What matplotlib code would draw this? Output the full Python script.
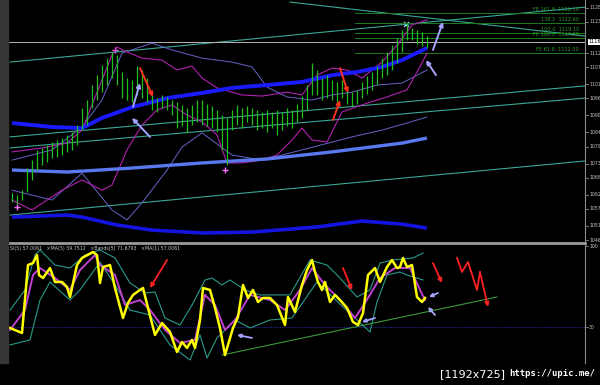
import matplotlib
matplotlib.use("Agg")
import matplotlib.pyplot as plt
import matplotlib.transforms as mtrans

# ---- price bars (one per bar index) ----
bar_high = [1062.6, 1061.9, 1063.7, 1071.4, 1074.2, 1077.8, 1078.5, 1079.5, 1080.6, 1081.3,
            1082.0, 1083.1, 1084.1, 1086.6, 1092.6, 1095.4, 1100.7, 1104.2, 1107.8, 1110.2,
            1112.4, 1111.3, 1105.3, 1103.2, 1102.5, 1107.4, 1106.0, 1103.2, 1097.2, 1096.1,
            1097.2, 1096.5, 1095.4, 1094.7, 1093.7, 1092.6, 1093.7, 1095.4, 1095.4, 1094.0,
            1093.3, 1091.9, 1090.1, 1089.1, 1091.9, 1093.7, 1092.6, 1093.3, 1092.6, 1091.9,
            1091.2, 1091.9, 1091.2, 1091.9, 1091.2, 1092.6, 1091.9, 1094.0, 1096.8, 1100.7,
            1108.5, 1106.0, 1103.2, 1104.2, 1102.5, 1101.8, 1102.5, 1099.7, 1098.2, 1099.0,
            1101.8, 1103.9, 1105.3, 1107.4, 1110.2, 1112.4, 1114.8, 1117.3, 1120.1, 1122.2,
            1120.8, 1120.1, 1119.4, 1118.0]
bar_low = [1059.4, 1058.7, 1060.1, 1062.9, 1067.2, 1070.7, 1072.5, 1073.5, 1074.9, 1075.3,
           1076.0, 1077.1, 1077.8, 1079.5, 1084.8, 1086.6, 1092.6, 1095.4, 1098.2, 1100.7,
           1103.2, 1100.7, 1096.1, 1095.4, 1094.7, 1097.2, 1096.1, 1094.7, 1091.9, 1091.2,
           1092.6, 1091.9, 1090.1, 1085.5, 1086.2, 1084.1, 1086.6, 1087.7, 1086.6, 1086.2,
           1085.5, 1084.1, 1077.8, 1072.5, 1084.8, 1086.6, 1085.5, 1087.7, 1086.6, 1084.8,
           1085.5, 1084.1, 1085.5, 1083.1, 1084.8, 1086.2, 1085.5, 1087.7, 1089.1, 1091.9,
           1097.2, 1097.2, 1095.4, 1096.1, 1095.4, 1094.7, 1096.1, 1094.0, 1093.3, 1094.0,
           1096.1, 1097.5, 1099.0, 1100.7, 1103.2, 1104.2, 1106.0, 1108.5, 1112.4, 1116.6,
           1116.6, 1115.2, 1114.5, 1113.8]
bid = 1115.9

# ---- moving averages on price ----
ma_fast_x = [0, 8, 14, 18, 24, 28, 31, 38, 44, 51, 58, 64, 69, 74, 78, 83]
ma_fast_y = [1087.3, 1085.9, 1085.5, 1089.1, 1092.9, 1094.7, 1096.1, 1097.9, 1099.7, 1100.7,
             1101.8, 1104.2, 1105.3, 1107.1, 1109.5, 1113.8]
ma_mid_x = [0, 11, 24, 38, 51, 64, 78, 83]
ma_mid_y = [1070.7, 1070.0, 1071.4, 1073.2, 1074.6, 1077.1, 1080.2, 1082.0]
ma_slow_x = [0, 11, 14, 21, 28, 38, 48, 61, 70, 78, 83]
ma_slow_y = [1054.1, 1054.8, 1054.1, 1051.3, 1049.5, 1048.5, 1048.8, 1050.6, 1052.7, 1051.6, 1050.2]

# ---- bollinger bands on price ----
bb1_up_x = [0, 6, 11, 14, 16, 18, 20, 21, 23, 26, 30, 33, 36, 38, 41, 46, 50, 55, 58, 61, 64, 67,
            70, 74, 77, 80, 83]
bb1_up_y = [1077.1, 1078.5, 1080.2, 1084.8, 1093.7, 1102.5, 1111.3, 1114.1, 1112.4, 1110.2,
            1109.5, 1106.0, 1107.4, 1103.2, 1099.7, 1097.2, 1096.8, 1098.2, 1097.2, 1104.2,
            1106.7, 1106.0, 1103.2, 1108.8, 1114.8, 1121.9, 1123.7]
bb1_lo_x = [0, 4, 10, 14, 18, 20, 23, 26, 29, 32, 35, 38, 41, 43, 46, 50, 53, 56, 58, 60, 63, 66,
            70, 75, 79, 82, 83]
bb1_lo_y = [1060.1, 1056.6, 1063.6, 1067.2, 1063.6, 1065.4, 1077.8, 1086.6, 1091.9, 1093.7,
            1090.1, 1087.7, 1083.1, 1073.2, 1073.2, 1074.2, 1076.0, 1081.3, 1085.5, 1081.3,
            1080.6, 1091.2, 1093.7, 1096.5, 1099.0, 1108.5, 1112.0]
bb2_up_x = [0, 8, 14, 18, 22, 28, 32, 38, 44, 48, 51, 55, 60, 64, 68, 73, 78, 83]
bb2_up_y = [1074.2, 1077.8, 1085.9, 1095.4, 1112.0, 1115.5, 1113.1, 1110.2, 1108.8, 1107.1,
            1100.0, 1096.5, 1095.4, 1097.2, 1098.2, 1100.7, 1101.4, 1106.0]
bb2_lo_x = [0, 8, 14, 20, 23, 26, 31, 34, 38, 44, 50, 58, 68, 74, 79, 83]
bb2_lo_y = [1063.6, 1060.1, 1069.6, 1056.6, 1053.1, 1059.1, 1070.7, 1078.8, 1083.8, 1076.0,
            1074.2, 1077.8, 1082.4, 1084.8, 1087.3, 1089.4]

# ---- trend lines (x0, y0, x1, y1) ----
trend_lines = [(-0.4, 1108.8, 114.6, 1128.2),
               (55.6, 1130.0, 114.6, 1118.0),
               (-0.4, 1082.4, 114.6, 1100.4),
               (-0.4, 1078.5, 114.6, 1096.1),
               (-0.4, 1054.8, 114.6, 1073.9)]

# ---- fibonacci expansion ----
fib_names = ["FE 161.8", "138.2", "100.0", "FE 100.0", "FE 61.8"]
fib_levels = [1126.1, 1122.6, 1119.1, 1117.3, 1112.0]
fib_start = 68.6

# ---- hand drawn arrows on price (tail x, tail y, head x, head y) ----
price_arrows_lav = [(24.2, 1093.0, 25.6, 1101.4), (27.6, 1082.4, 24.0, 1089.1),
                    (84.2, 1113.1, 86.2, 1123.0), (84.8, 1104.2, 82.8, 1109.5)]
price_arrows_red = [(25.6, 1106.7, 28.2, 1096.5), (65.6, 1106.7, 67.2, 1097.9),
                    (64.2, 1088.4, 65.6, 1095.4)]
fractal_x = [1, 20.6, 42.6]
fractal_y = [1057.7, 1113.1, 1070.7]

price_ticks = [1128, 1123, 1112, 1107, 1101, 1096, 1090, 1084, 1079, 1073, 1068, 1062, 1057,
               1051, 1046]

# ---- oscillator panel ----
osc_x = [-0.4, 2, 3.2, 4.2, 5, 5.4, 6.2, 7.6, 8.6, 10, 11, 11.6, 13, 14, 16.2, 17, 17.6, 18.2,
         19.6, 20.6, 22.2, 23.2, 24.2, 25.6, 26.2, 27.2, 28.6, 30, 31.6, 33, 34, 35, 36, 36.6,
         37.6, 38.2, 39.6, 40.6, 41.6, 42.6, 44.2, 45.2, 46.2, 47.2, 48.2, 49.2, 50.2, 51.6,
         53, 54.6, 55.2, 56.6, 58, 59, 60, 60.6, 61.2, 62, 62.6, 63.6, 64.6, 65.6, 67, 68.2,
         69.2, 70.2, 71.2, 72.6, 73.6, 75, 76, 77, 77.6, 78.2, 79, 80, 81, 82, 82.6]
osc_v = [29.3, 25.0, 83.6, 85.3, 92.2, 75.0, 72.4, 81.0, 69.0, 69.0, 64.7, 56.0, 83.6, 89.7,
         94.8, 92.2, 68.1, 81.9, 83.6, 63.8, 37.9, 50.9, 57.8, 62.1, 63.8, 46.6, 23.3, 33.6,
         25.9, 8.6, 17.2, 12.1, 19.0, 12.1, 36.2, 63.8, 62.1, 46.6, 29.3, 6.0, 29.3, 38.8,
         66.4, 55.2, 62.1, 51.7, 55.2, 55.2, 49.1, 31.9, 56.0, 43.1, 66.4, 79.3, 87.9, 77.6,
         69.0, 62.1, 69.0, 51.7, 57.8, 53.4, 46.6, 34.5, 31.9, 42.2, 75.0, 81.0, 69.0, 81.9,
         87.9, 81.0, 81.9, 89.7, 81.9, 83.6, 56.0, 51.7, 55.2]
sig_x = [-0.4, 2.6, 4.2, 5.6, 8.6, 11.6, 13.6, 16.6, 17.6, 20.6, 22.6, 25.6, 27.6, 30.6, 33.6,
         36.6, 38.6, 40.6, 42.6, 44.6, 47.6, 51.6, 54.6, 57.6, 60, 62.6, 65.6, 68.6, 70.6,
         73.6, 76.6, 79.6, 81.6, 82.6]
sig_v = [27.6, 44.8, 75.0, 81.0, 72.4, 62.1, 79.3, 92.2, 83.6, 75.0, 49.1, 53.4, 44.8, 27.6,
         16.4, 19.0, 57.8, 49.1, 27.6, 36.2, 57.8, 53.4, 44.8, 62.1, 81.0, 66.4, 53.4, 37.9,
         50.9, 72.4, 81.0, 81.0, 62.1, 53.4]
band_up_x = [-0.4, 2.6, 4.6, 5.6, 8.6, 11.6, 14.6, 17.6, 20.6, 23.6, 26.6, 28.6, 30.6, 33.6,
             36, 38.6, 40, 42, 43.6, 46.6, 49.6, 55.6, 59.6, 63, 65.6, 69, 71.6, 73.6, 76,
             80.2, 82.2]
band_up_v = [44.8, 62.1, 92.2, 96.6, 83.6, 81.0, 92.2, 96.6, 89.7, 68.1, 59.5, 60.3, 37.9,
             31.9, 49.1, 70.7, 72.4, 66.4, 70.7, 62.1, 57.8, 57.8, 87.9, 83.6, 72.4, 56.0,
             62.1, 85.3, 87.9, 89.7, 94.0]
band_lo_x = [-0.4, 3.6, 5.6, 7.6, 11.6, 13.6, 17.6, 20.6, 23.6, 27.6, 31.6, 35.6, 37.6, 39,
             41, 44.6, 47.6, 51.6, 56, 61, 66.2, 71.6, 73, 75, 77.6, 79, 82.2]
band_lo_v = [14.7, 19.0, 53.4, 69.0, 53.4, 62.1, 86.2, 66.4, 44.8, 40.5, 14.7, 1.7, 23.3,
             3.4, 20.7, 36.2, 29.3, 36.2, 37.9, 69.0, 47.4, 25.9, 51.7, 75.0, 77.6, 75.0, 70.7]
osc_level = 30
osc_trend = (42, 6.0, 97, 56.0)
osc_arrows_red = [(31, 87.9, 27.6, 63.8), (66.2, 81.0, 68, 62.1), (84.2, 85.3, 86, 68.1)]
zigzag_x = [89, 90, 91.2, 93, 93.6, 95.2]
zigzag_v = [89.7, 77.6, 86.2, 62.1, 77.6, 47.4]
osc_arrows_lav = [(48, 20.7, 45, 23.3), (72.6, 37.9, 70, 34.5),
                  (85.2, 59.5, 83.4, 56.0), (84.6, 40.5, 83.2, 47.4)]
osc_header = "SI(5) 57.0061   \u00d7MA(5) 59.7512   \u00d7Bands(5) 71.6793   \u00d7MA(1) 57.0061"

W, H = 600, 385
fig = plt.figure(figsize=(W / 100, H / 100), dpi=100, facecolor="black")
fig.patches.append(plt.Rectangle((0, 1 - 363 / H), 8 / W, 363 / H, transform=fig.transFigure,
                                 color="#353535", zorder=0))

ax = fig.add_axes([8 / W, 1 - 241 / H, 577 / W, 241 / H], facecolor="black")
osc = fig.add_axes([8 / W, 1 - 363 / H, 577 / W, 120 / H], facecolor="black", sharex=ax)
for a in (ax, osc):
    a.set_xticks([])
    a.set_yticks([])
    for s in a.spines.values():
        s.set_visible(False)
    a.spines["right"].set_visible(True)
    a.spines["right"].set_color("#8a8a8a")
osc.spines["top"].set_visible(True)
osc.spines["top"].set_color("#9a9a9a")
osc.spines["top"].set_linewidth(2)
ax.set_xlim(-0.8, 114.6)
ax.set_ylim(1045.65, 1130.72)
osc.set_ylim(-0.9, 102.6)

# trend lines and bid line
for x0, y0, x1, y1 in trend_lines:
    ax.plot([x0, x1], [y0, y1], color="#3aa896", lw=0.8)
ax.axhline(bid, color="#b8b8b8", lw=0.7)
for name, lvl in zip(fib_names, fib_levels):
    ax.plot([fib_start, 114.6], [lvl, lvl], color="#1e7a1e", lw=0.7)
    ax.text(113.4, lvl + 0.3, f"{name}  {lvl:.2f}", color="#2f9a2f", fontsize=3.6,
            ha="right", va="bottom")

# bands
ax.plot(bb2_up_x, bb2_up_y, color="#6464c8", lw=0.7)
ax.plot(bb2_lo_x, bb2_lo_y, color="#6464c8", lw=0.7)
ax.plot(bb1_up_x, bb1_up_y, color="#b020b0", lw=0.8)
ax.plot(bb1_lo_x, bb1_lo_y, color="#b020b0", lw=0.8)

# moving averages
ax.plot(ma_slow_x, ma_slow_y, color="#1414e0", lw=2.6, solid_capstyle="butt")
ax.plot(ma_mid_x, ma_mid_y, color="#5a78f0", lw=2.4, solid_capstyle="butt")
ax.plot(ma_fast_x, ma_fast_y, color="#1a1aff", lw=2.8, solid_capstyle="butt")

# price bars
ax.vlines(range(len(bar_high)), bar_low, bar_high, color="#1fbf1f", lw=0.9)
ax.scatter(fractal_x, fractal_y, marker="+", s=14, color="#ff70ff", lw=1)
ax.scatter([78.8], [1122.2], marker="x", s=12, color="#a0e0ff", lw=1)

for x0, y0, x1, y1 in price_arrows_lav:
    ax.annotate("", xy=(x1, y1), xytext=(x0, y0),
                arrowprops=dict(arrowstyle="-|>", color="#a4a4ff", lw=1.4, mutation_scale=6,
                                shrinkA=0, shrinkB=0))
for x0, y0, x1, y1 in price_arrows_red:
    ax.annotate("", xy=(x1, y1), xytext=(x0, y0),
                arrowprops=dict(arrowstyle="-|>", color="#ff3020", lw=1.4, mutation_scale=6,
                                shrinkA=0, shrinkB=0))

# right price axis
btr = mtrans.blended_transform_factory(ax.transAxes, ax.transData)
for p in price_ticks:
    ax.plot([1.0, 1.005], [p, p], color="#8a8a8a", lw=0.6, transform=btr, clip_on=False)
    ax.text(1.007, p, str(p), color="#c8c8c8", fontsize=3.3, va="center", ha="left",
            transform=btr)
ax.text(1.006, bid, f"{bid:.0f}", color="black", fontsize=3.6, va="center", ha="left",
        transform=btr, bbox=dict(facecolor="white", edgecolor="none", pad=0.5))

# oscillator panel
osc.axhline(osc_level, color="#262690", lw=0.8, ls=(0, (1, 1)))
osc.plot([osc_trend[0], osc_trend[2]], [osc_trend[1], osc_trend[3]], color="#3c9a3c", lw=0.8)
osc.plot(band_up_x, band_up_v, color="#2a9a8a", lw=0.8)
osc.plot(band_lo_x, band_lo_v, color="#2a9a8a", lw=0.8)
osc.plot(sig_x, sig_v, color="#c040d0", lw=1.4)
osc.plot(osc_x, osc_v, color="#ffff00", lw=1.8)
for x0, y0, x1, y1 in osc_arrows_red:
    osc.annotate("", xy=(x1, y1), xytext=(x0, y0),
                 arrowprops=dict(arrowstyle="-|>", color="#ff2020", lw=1.3, mutation_scale=6,
                                 shrinkA=0, shrinkB=0))
osc.plot(zigzag_x[:-1], zigzag_v[:-1], color="#ff2020", lw=1.3)
osc.annotate("", xy=(zigzag_x[-1], zigzag_v[-1]), xytext=(zigzag_x[-2], zigzag_v[-2]),
             arrowprops=dict(arrowstyle="-|>", color="#ff2020", lw=1.3, mutation_scale=6,
                             shrinkA=0, shrinkB=0))
for x0, y0, x1, y1 in osc_arrows_lav:
    osc.annotate("", xy=(x1, y1), xytext=(x0, y0),
                 arrowprops=dict(arrowstyle="-|>", color="#a4a4ff", lw=1.3, mutation_scale=5,
                                 shrinkA=0, shrinkB=0))
otr = mtrans.blended_transform_factory(osc.transAxes, osc.transData)
for v in (100, osc_level):
    osc.plot([1.0, 1.005], [v, v], color="#8a8a8a", lw=0.6, transform=otr, clip_on=False)
    osc.text(1.007, v, str(v), color="#c8c8c8", fontsize=3.3, va="center", ha="left",
             transform=otr)
osc.text(0.003, 0.955, osc_header, color="#c8c8c8", fontsize=3.4, va="center", ha="left",
         transform=osc.transAxes)

fig.text(440 / W, 1 - 374 / H, "[1192x725]", color="white", fontsize=8, va="center")
fig.text(595 / W, 1 - 374 / H, "https://upic.me/", color="white", fontsize=6.4,
         fontweight="bold", va="center", ha="right", family="DejaVu Sans Mono")

fig.savefig("out.png", dpi=100, facecolor="black")
